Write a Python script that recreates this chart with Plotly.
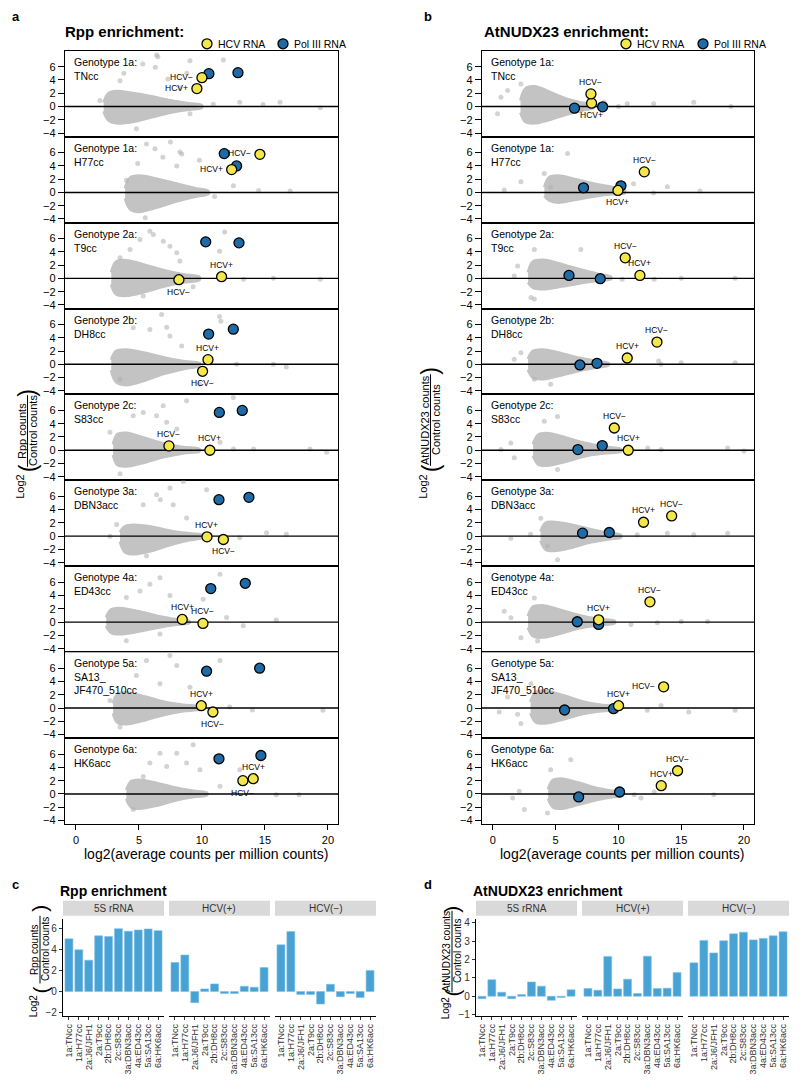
import plotly.graph_objects as go

W, H = 800, 1085

# ---------------- data: scatter panels (a = Rpp, b = AtNUDX23) ----------------
genotypes = ["Genotype 1a:<br>TNcc", "Genotype 1a:<br>H77cc", "Genotype 2a:<br>T9cc",
             "Genotype 2b:<br>DH8cc", "Genotype 2c:<br>S83cc", "Genotype 3a:<br>DBN3acc",
             "Genotype 4a:<br>ED43cc", "Genotype 5a:<br>SA13_<br>JF470_510cc", "Genotype 6a:<br>HK6acc"]

rpp_plus_x = [9.6, 12.36, 11.56, 10.48, 10.63, 10.4, 8.44, 9.95, 14.07]
rpp_plus_y = [2.7, 3.45, 0.25, 0.7, 0.0, -0.1, 0.4, 0.35, 2.3]
rpp_minus_x = [10.0, 14.6, 8.17, 10.05, 7.38, 11.7, 10.08, 10.87, 13.25]
rpp_minus_y = [4.35, 5.74, -0.2, -1.05, 0.65, -0.5, -0.2, -0.6, 2.0]
rpp_pol3_x = [[10.55, 12.86], [11.77, 12.75], [10.3, 12.94], [10.53, 12.49], [11.38, 13.2],
              [11.35, 13.73], [10.7, 13.44], [10.37, 14.58], [11.35, 14.68]]
rpp_pol3_y = [[4.95, 5.1], [5.85, 4.0], [5.5, 5.35], [4.55, 5.3], [5.7, 6.0],
              [5.5, 5.85], [5.05, 5.85], [5.55, 6.0], [5.3, 5.8]]

nud_plus_x = [7.86, 9.96, 11.71, 10.7, 10.78, 12.0, 8.42, 10.01, 13.41]
nud_plus_y = [0.5, 0.3, 0.45, 0.95, 0.0, 2.1, 0.35, 0.35, 1.25]
nud_minus_x = [7.81, 12.06, 10.54, 13.07, 9.67, 14.24, 12.51, 13.6, 14.71]
nud_minus_y = [1.9, 3.1, 3.1, 3.35, 3.35, 3.05, 3.05, 3.2, 3.5]
nud_pol3_x = [[6.5, 8.74], [7.22, 10.2], [6.06, 8.55], [6.93, 8.29], [6.77, 8.71],
              [7.14, 9.27], [6.72, 8.42], [5.71, 9.61], [6.83, 10.09]]
nud_pol3_y = [[-0.25, -0.05], [0.7, 1.0], [0.45, -0.05], [-0.1, 0.15], [0.1, 0.7],
              [0.45, 0.55], [0.05, -0.35], [-0.3, -0.1], [-0.45, 0.3]]

# dense background cloud: envelope (x, upper edge, lower edge)
cloud_a_x = [[2.2, 2.6, 3.2, 4.5, 6.0, 7.5, 9.0, 10.0],
             [3.9, 4.3, 5.0, 6.5, 8.0, 9.5, 10.5],
             [2.8, 3.2, 4.0, 5.5, 7.0, 8.5, 9.8],
             [2.8, 3.2, 4.0, 5.5, 7.0, 8.5, 9.8],
             [2.95, 3.3, 4.0, 5.5, 7.0, 8.5, 9.8],
             [3.5, 3.9, 4.6, 6.0, 7.5, 9.0, 10.0],
             [2.4, 2.8, 3.5, 5.0, 6.5, 8.0, 9.0],
             [2.95, 3.3, 4.0, 5.5, 7.0, 8.5, 9.8],
             [4.0, 4.4, 5.0, 6.5, 8.0, 9.5, 10.4]]
cloud_a_hi = [[0.6, 2.0, 2.3, 2.0, 1.5, 0.9, 0.45, 0.15],
              [0.6, 2.2, 2.5, 2.0, 1.3, 0.6, 0.2],
              [0.9, 2.5, 2.7, 2.0, 1.2, 0.6, 0.2],
              [0.7, 2.0, 2.2, 1.7, 1.0, 0.45, 0.15],
              [0.9, 2.4, 2.6, 1.8, 1.0, 0.45, 0.15],
              [0.6, 1.5, 1.7, 1.4, 0.8, 0.4, 0.15],
              [0.7, 1.9, 2.1, 1.6, 0.9, 0.4, 0.15],
              [0.7, 2.1, 2.3, 1.7, 0.9, 0.45, 0.15],
              [0.6, 1.9, 2.1, 1.6, 0.9, 0.4, 0.15]]
cloud_a_lo = [[-0.7, -2.1, -2.5, -2.3, -1.6, -0.9, -0.45, -0.15],
              [-0.9, -2.5, -2.9, -2.2, -1.3, -0.6, -0.2],
              [-0.9, -2.4, -2.6, -2.0, -1.2, -0.6, -0.2],
              [-0.9, -2.7, -3.1, -2.4, -1.4, -0.7, -0.2],
              [-0.7, -2.2, -2.4, -1.8, -1.0, -0.45, -0.15],
              [-0.8, -2.4, -2.7, -2.2, -1.3, -0.6, -0.2],
              [-0.6, -1.6, -1.8, -1.4, -0.8, -0.35, -0.15],
              [-0.8, -2.2, -2.4, -1.8, -1.0, -0.45, -0.15],
              [-0.7, -2.0, -2.2, -1.7, -0.9, -0.4, -0.15]]

cloud_b_x = [[2.2, 2.6, 3.3, 4.5, 5.8, 7.0, 8.0],
             [4.1, 4.5, 5.2, 6.5, 8.0, 9.5, 10.5],
             [2.8, 3.2, 4.0, 5.5, 7.0, 8.5, 9.4],
             [2.8, 3.2, 4.0, 5.5, 7.0, 8.3, 9.2],
             [3.2, 3.6, 4.3, 5.8, 7.3, 8.8, 10.2],
             [3.8, 4.2, 4.9, 6.3, 7.8, 9.2, 10.2],
             [2.8, 3.2, 3.9, 5.4, 6.9, 8.4, 9.7],
             [3.0, 3.4, 4.1, 5.6, 7.1, 8.6, 10.2],
             [4.4, 4.8, 5.4, 6.8, 8.2, 9.5, 10.4]]
cloud_b_hi = [[0.9, 2.7, 3.0, 2.2, 1.2, 0.6, 0.2],
              [0.8, 2.3, 2.5, 2.0, 1.3, 0.8, 0.3],
              [0.9, 2.5, 2.75, 2.1, 1.3, 0.6, 0.2],
              [0.8, 2.0, 2.2, 1.6, 0.9, 0.45, 0.15],
              [0.9, 2.3, 2.55, 1.9, 1.1, 0.55, 0.15],
              [0.7, 2.0, 2.1, 1.7, 1.0, 0.45, 0.15],
              [0.9, 2.3, 2.5, 1.8, 1.0, 0.45, 0.15],
              [0.9, 2.4, 2.6, 1.9, 1.0, 0.45, 0.15],
              [0.7, 2.1, 2.3, 1.7, 0.9, 0.45, 0.15]]
cloud_b_lo = [[-0.9, -2.3, -2.5, -2.0, -1.2, -0.6, -0.2],
              [-0.5, -1.2, -1.5, -1.1, -0.6, -0.25, -0.1],
              [-0.6, -1.4, -1.6, -1.2, -0.7, -0.3, -0.1],
              [-0.8, -2.0, -2.2, -1.6, -0.9, -0.45, -0.15],
              [-0.8, -2.1, -2.3, -1.7, -0.9, -0.45, -0.15],
              [-0.7, -2.0, -2.2, -1.7, -0.9, -0.45, -0.15],
              [-0.8, -2.1, -2.3, -1.7, -0.9, -0.45, -0.15],
              [-0.8, -2.1, -2.3, -1.7, -0.9, -0.45, -0.15],
              [-0.7, -2.0, -2.2, -1.6, -0.9, -0.45, -0.15]]

# scattered individual genes outside the dense cloud
outl_a_x = [[6.4, 6.5, 5.3, 6.3, 3.8, 3.5, 7.3, 9.05, 11.7, 8.8, 8.25, 13.0, 14.85, 16.2, 19.4, 9.05, 4.8, 10.9, 1.9],
            [6.27, 8.25, 8.4, 6.9, 4.9, 8.0, 9.8, 4.0, 5.6, 7.5, 12.5, 14.5, 17.0, 11.0, 5.5],
            [5.87, 6.14, 6.93, 7.46, 8.0, 8.25, 5.08, 4.29, 3.5, 11.8, 11.4, 13.3, 15.66, 19.4, 5.34, 9.3],
            [6.8, 4.55, 5.87, 7.2, 7.46, 8.39, 11.4, 11.5, 12.75, 15.66, 16.7, 3.5, 9.8],
            [8.78, 6.93, 5.34, 4.55, 6.4, 7.2, 8.0, 12.49, 11.43, 12.5, 14.1, 18.57, 19.9, 3.5, 2.7],
            [8.52, 7.46, 6.4, 5.34, 6.7, 7.72, 8.78, 10.37, 13.0, 15.13, 16.7, 3.23, 5.6, 2.7],
            [6.67, 5.08, 4.0, 5.87, 7.46, 11.43, 10.1, 11.96, 13.28, 15.9, 4.0, 6.67],
            [5.6, 7.46, 4.8, 6.67, 8.0, 9.05, 11.43, 12.2, 14.0, 19.6, 3.5, 2.7],
            [6.67, 8.0, 5.87, 7.2, 8.78, 9.84, 5.34, 13.0, 11.43, 15.9, 17.7, 4.55, 9.3]]
outl_a_y = [[7.75, 7.5, 6.4, 5.9, 5.0, 3.9, 4.15, 6.9, 7.0, 5.0, 2.8, 0.65, 0.3, 0.65, -0.2, -1.1, -3.35, 0.35, 0.9],
            [6.6, 6.1, 5.8, 5.3, 4.35, 4.0, 4.85, 1.85, 7.3, 7.6, 1.0, 0.3, 0.2, -0.6, -3.8],
            [7.1, 6.6, 5.6, 4.85, 3.85, 2.6, 5.85, 4.35, 3.1, 7.0, 4.1, -0.15, 0.0, -0.15, -2.65, -1.25],
            [7.5, 5.5, 5.25, 5.6, 4.25, 2.75, 7.2, 6.5, 0.0, 0.0, -0.4, -2.25, -3.0],
            [7.45, 6.7, 5.7, 5.2, 5.2, 4.2, 3.2, 7.95, 1.2, 0.2, 0.2, 0.2, -0.3, -3.55, 2.7],
            [8.25, 7.25, 6.25, 4.75, 5.5, 4.75, 2.75, 7.0, -0.25, 0.5, 0.3, 1.75, -3.0, 0.0],
            [6.7, 4.7, 3.7, 5.7, 4.0, 7.2, 3.45, 0.7, -0.55, 0.3, -2.8, -1.8],
            [7.15, 7.9, 4.9, 3.65, 6.4, 3.15, 7.15, 0.15, -0.3, -0.35, -2.85, 1.15],
            [6.15, 6.15, 4.65, 4.15, 4.65, 3.65, 2.65, 3.65, 1.15, -0.1, -0.1, -2.35, 7.4]]
outl_b_x = [[0.64, 0.37, 1.17, 2.23, 7.0, 8.87, 10.7, 12.8, 16.0, 18.96, 10.0],
            [5.95, 2.23, 0.9, 4.09, 13.9, 11.2, 12.8, 16.5, 4.6],
            [1.7, 3.3, 3.03, 3.3, 12.85, 15.0, 19.3, 1.97, 7.0, 10.3],
            [1.7, 2.23, 3.3, 13.4, 15.0, 19.3, 13.2, 4.6],
            [0.64, 1.43, 1.7, 4.09, 5.15, 12.33, 13.4, 18.7, 20.0, 5.15],
            [1.43, 3.0, 3.82, 4.35, 11.5, 13.9, 16.0, 18.7, 5.15],
            [0.9, 1.43, 2.23, 3.56, 11.0, 13.1, 15.0, 17.1, 3.3],
            [0.5, 1.17, 1.97, 2.23, 12.3, 13.4, 15.6, 19.3, 3.03],
            [1.57, 2.1, 2.5, 6.2, 4.6, 11.26, 11.8, 12.85, 17.6, 4.35]]
outl_b_y = [[1.4, -1.1, 2.4, 3.4, -0.6, 0.65, 0.4, 0.4, 0.65, 0.0, 0.0],
            [5.85, 1.6, 0.35, 2.85, 0.85, 1.3, -0.1, 0.2, 0.8],
            [0.35, 4.35, -2.9, -3.1, -0.15, 0.0, 0.0, 1.85, 4.35, -0.15],
            [0.75, 1.75, -2.25, 0.0, 0.25, 0.25, 0.5, -3.0],
            [0.1, 1.1, -1.15, 4.35, 5.1, 0.35, 0.1, 0.35, -0.1, -2.9],
            [-0.3, 0.3, 2.7, -1.5, 0.2, 0.45, 0.2, 0.45, -3.55],
            [1.65, 0.65, -2.35, -2.85, -0.35, -0.1, 0.1, 0.1, 3.65],
            [-0.6, 1.65, -0.95, -2.35, -0.35, 0.4, -0.6, -0.35, 3.65],
            [-0.6, 0.4, -2.35, 5.15, 3.65, -0.1, -0.6, 0.3, -0.1, -2.85]]

x_ticks = [0, 5, 10, 15, 20]
y_ticks = [-4, -2, 0, 2, 4, 6]

# ---------------- data: bar panels (c = Rpp, d = AtNUDX23) ----------------
bar_categories = ["1a:TNcc", "1a:H77cc", "2a:J6/JFH1", "2a:T9cc", "2b:DH8cc",
                  "2c:S83cc", "3a:DBN3acc", "4a:ED43cc", "5a:SA13cc", "6a:HK6acc"]
facet_names = ["5S rRNA", "HCV(+)", "HCV(\u2212)"]
rpp_5s = [5.05, 4.0, 3.0, 5.34, 5.27, 6.03, 5.78, 5.9, 6.0, 5.84]
rpp_hcvp = [2.78, 3.5, -1.07, 0.25, 0.73, -0.2, -0.19, 0.5, 0.41, 2.3]
rpp_hcvm = [4.48, 5.75, -0.28, -0.28, -1.2, 0.69, -0.5, -0.19, -0.57, 2.02]
nud_5s = [-0.13, 0.9, 0.22, -0.13, 0.09, 0.78, 0.55, -0.22, -0.07, 0.35]
nud_hcvp = [0.42, 0.33, 2.16, 0.4, 0.93, 0.15, 2.18, 0.42, 0.44, 1.29]
nud_hcvm = [1.82, 3.04, 2.36, 3.02, 3.4, 3.49, 3.07, 3.15, 3.29, 3.51]
rpp_bar_ticks = [-2, 0, 2, 4, 6]
nud_bar_ticks = [-1, 0, 1, 2, 3, 4]

# ---------------- styling ----------------
FONT = "Liberation Sans, Arial, Helvetica, sans-serif"
YELLOW = "#F3E74B"
BLUE = "#1F6BA5"
CLOUD = "#C3C3C3"
OUTL = "rgba(175,175,175,0.55)"
BARC = "#48A2D4"
XR = [-0.87, 20.8]
YR = [-4.55, 8.4]

a_plus_pos = ['left', 'left', 'top', 'top', 'top', 'top', 'top', 'top', 'top']
a_minus_pos = ['left', 'left', 'bottom', 'bottom', 'top', 'bottom', 'top', 'bottom', 'bottom']
b_plus_pos = ['bottom', 'bottom', 'top', 'top', 'top', 'top', 'top', 'top', 'top']
b_minus_pos = ['top', 'top', 'top', 'top', 'top', 'top', 'top', 'left', 'top']


def fx(p):
    return p / W


def fy(p):
    return 1 - p / H


fig = go.Figure()
layout = dict(width=W, height=H, margin=dict(l=0, r=0, t=0, b=0, pad=0),
              plot_bgcolor="white", paper_bgcolor="white", showlegend=False,
              bargap=0.2, font=dict(family=FONT, color="black"))
annotations = []
shapes = []


def ax_names(i):
    return ("xaxis" if i == 1 else f"xaxis{i}", "yaxis" if i == 1 else f"yaxis{i}",
            "x" if i == 1 else f"x{i}", "y" if i == 1 else f"y{i}")


PANEL_TOP = 50.0
PANEL_H = 86.33
cols = [(65, 338), (482, 754)]

sets = [
    dict(px=rpp_plus_x, py=rpp_plus_y, mx=rpp_minus_x, my=rpp_minus_y, bx=rpp_pol3_x, by=rpp_pol3_y,
         cx=cloud_a_x, chi=cloud_a_hi, clo=cloud_a_lo, ox=outl_a_x, oy=outl_a_y,
         ppos=a_plus_pos, mpos=a_minus_pos),
    dict(px=nud_plus_x, py=nud_plus_y, mx=nud_minus_x, my=nud_minus_y, bx=nud_pol3_x, by=nud_pol3_y,
         cx=cloud_b_x, chi=cloud_b_hi, clo=cloud_b_lo, ox=outl_b_x, oy=outl_b_y,
         ppos=b_plus_pos, mpos=b_minus_pos),
]


def label_ann(xr, yr, x, y, text, pos):
    a = dict(xref=xr, yref=yr, x=x, y=y, text=text, showarrow=False,
             font=dict(size=8.5, family=FONT, color="black"))
    if pos == 'left':
        a.update(xanchor='right', yanchor='middle', xshift=-7, yshift=1)
    elif pos == 'top':
        a.update(xanchor='center', yanchor='bottom', yshift=5)
    else:
        a.update(xanchor='center', yanchor='top', yshift=-5)
    return a


for c in range(2):
    d = sets[c]
    x0, x1 = cols[c]
    for r in range(9):
        i = c * 9 + r + 1
        xa, ya, xt, yt = ax_names(i)
        top = PANEL_TOP + PANEL_H * r
        bot = top + PANEL_H
        last = (r == 8)
        layout[xa] = dict(domain=[fx(x0), fx(x1)], range=XR, anchor=yt, showgrid=False, zeroline=False,
                          showline=True, mirror=True, linecolor="black", linewidth=1.4,
                          ticks="outside" if last else "", ticklen=5, tickwidth=1, tickcolor="black",
                          tickvals=x_ticks, showticklabels=last,
                          tickfont=dict(size=11, family=FONT, color="black"))
        layout[ya] = dict(domain=[fy(bot), fy(top)], range=YR, anchor=xt, showgrid=False, zeroline=False,
                          showline=True, mirror=True, linecolor="black", linewidth=1.4,
                          ticks="outside", ticklen=6, tickwidth=1, tickcolor="black",
                          tickvals=y_ticks, tickfont=dict(size=11, family=FONT, color="black"))
        # dense cloud
        cx = d['cx'][r]
        fig.add_trace(go.Scatter(x=cx + cx[::-1], y=d['chi'][r] + d['clo'][r][::-1], xaxis=xt, yaxis=yt,
                                 mode="lines", fill="toself", fillcolor=CLOUD,
                                 line=dict(color=CLOUD, width=3, shape="spline"), hoverinfo="skip"))
        fig.add_trace(go.Scatter(x=d['ox'][r], y=d['oy'][r], xaxis=xt, yaxis=yt, mode="markers",
                                 marker=dict(size=5, color=OUTL), hoverinfo="skip"))
        # zero line
        fig.add_trace(go.Scatter(x=XR, y=[0, 0], xaxis=xt, yaxis=yt, mode="lines",
                                 line=dict(color="black", width=1.4), hoverinfo="skip"))
        # Pol III RNA
        fig.add_trace(go.Scatter(x=d['bx'][r], y=d['by'][r], xaxis=xt, yaxis=yt, mode="markers",
                                 marker=dict(size=10, color=BLUE, line=dict(color="black", width=1.3))))
        # HCV RNA
        fig.add_trace(go.Scatter(x=[d['px'][r], d['mx'][r]], y=[d['py'][r], d['my'][r]], xaxis=xt, yaxis=yt,
                                 mode="markers",
                                 marker=dict(size=10, color=YELLOW, line=dict(color="black", width=1.3))))
        annotations.append(label_ann(xt, yt, d['px'][r], d['py'][r], "HCV+", d['ppos'][r]))
        annotations.append(label_ann(xt, yt, d['mx'][r], d['my'][r], "HCV\u2212", d['mpos'][r]))
        # genotype label
        annotations.append(dict(xref="paper", yref="paper", x=fx(x0 + 7), y=fy(top + 3), text=genotypes[r],
                                showarrow=False, xanchor="left", yanchor="top", align="left",
                                font=dict(size=10.5, family=FONT, color="black")))
    # x-axis title
    annotations.append(dict(xref="paper", yref="paper", x=fx((x0 + x1) / 2 + 4), y=fy(857),
                            text="log2(average counts per million counts)", showarrow=False,
                            xanchor="center", yanchor="middle", font=dict(size=14, family=FONT)))

# titles, panel letters, legends
for txt, x, y, sz in [("a", 10, 16, 13), ("b", 422, 16, 13), ("c", 10, 888, 13), ("d", 422, 888, 13)]:
    annotations.append(dict(xref="paper", yref="paper", x=fx(x), y=fy(y), text=f"<b>{txt}</b>",
                            showarrow=False, xanchor="left", yanchor="middle", font=dict(size=sz, family=FONT)))
for txt, x in [("Rpp enrichment:", 63), ("AtNUDX23 enrichment:", 482)]:
    annotations.append(dict(xref="paper", yref="paper", x=fx(x), y=fy(31), text=f"<b>{txt}</b>",
                            showarrow=False, xanchor="left", yanchor="middle", font=dict(size=15, family=FONT)))
for txt, x in [("Rpp enrichment", 58), ("AtNUDX23 enrichment", 471)]:
    annotations.append(dict(xref="paper", yref="paper", x=fx(x), y=fy(894), text=f"<b>{txt}</b>",
                            showarrow=False, xanchor="left", yanchor="middle", font=dict(size=14, family=FONT)))

for (ycx, pcx) in [(207, 283), (626, 703)]:
    for cx, col, lab in [(ycx, YELLOW, "HCV RNA"), (pcx, BLUE, "Pol III RNA")]:
        shapes.append(dict(type="circle", xref="paper", yref="paper", x0=fx(cx - 5), x1=fx(cx + 5),
                           y0=fy(43 + 5), y1=fy(43 - 5), fillcolor=col, line=dict(color="black", width=1.3)))
        annotations.append(dict(xref="paper", yref="paper", x=fx(cx + 9), y=fy(43), text=lab, showarrow=False,
                                xanchor="left", yanchor="middle", font=dict(size=10.5, family=FONT)))


# rotated y titles with fraction
def ytitle(logx, logy, parx, lpy, rpy, fracy, fracspan, num, den, sz, numdx):
    annotations.append(dict(xref="paper", yref="paper", x=fx(logx), y=fy(logy), text="Log2", textangle=-90,
                            showarrow=False, xanchor="center", yanchor="middle", font=dict(size=sz, family=FONT)))
    for t, yy in [("(", lpy), (")", rpy)]:
        annotations.append(dict(xref="paper", yref="paper", x=fx(parx), y=fy(yy), text=t, textangle=-90,
                                showarrow=False, xanchor="center", yanchor="middle",
                                font=dict(size=sz * 2.1, family=FONT)))
    annotations.append(dict(xref="paper", yref="paper", x=fx(parx - numdx), y=fy(fracy), text=num, textangle=-90,
                            showarrow=False, xanchor="center", yanchor="middle", font=dict(size=sz, family=FONT)))
    annotations.append(dict(xref="paper", yref="paper", x=fx(parx + numdx), y=fy(fracy), text=den, textangle=-90,
                            showarrow=False, xanchor="center", yanchor="middle", font=dict(size=sz, family=FONT)))
    shapes.append(dict(type="line", xref="paper", yref="paper", x0=fx(parx), x1=fx(parx),
                       y0=fy(fracy + fracspan / 2), y1=fy(fracy - fracspan / 2), line=dict(color="black", width=1)))


ytitle(20, 488, 27.5, 470, 394, 432, 72, "Rpp counts", "Control counts", 11, 5.5)
ytitle(423, 488, 430.5, 470, 372, 421, 92, "AtNUDX23 counts", "Control counts", 11, 5.5)
ytitle(33, 1010, 40, 994, 912, 953, 68, "Rpp counts", "Control counts", 10, 5.5)
ytitle(445, 1012, 452, 996, 912, 955, 82, "AtNUDX23 counts", "Control counts", 10, 5.5)

# ---------------- bar panels ----------------
bar_sets = [
    dict(vals=[rpp_5s, rpp_hcvp, rpp_hcvm], yr=[-2.38, 6.98], ticks=rpp_bar_ticks,
         facets=[(63, 164), (169, 270), (275, 376)]),
    dict(vals=[nud_5s, nud_hcvp, nud_hcvm], yr=[-1.09, 4.22], ticks=nud_bar_ticks,
         facets=[(476, 577), (582, 683), (688, 789)]),
]
for b in range(2):
    bs = bar_sets[b]
    for f in range(3):
        i = 19 + b * 3 + f
        xa, ya, xt, yt = ax_names(i)
        l, rr = bs['facets'][f]
        layout[xa] = dict(domain=[fx(l), fx(rr)], type="category", categoryorder="array",
                          categoryarray=bar_categories, range=[-0.6, 9.6], anchor=yt,
                          tickmode="array", tickvals=bar_categories, ticktext=bar_categories,
                          showline=True, linecolor="black", linewidth=1.2, showgrid=False, zeroline=False,
                          ticks="outside", ticklen=3, tickwidth=1, tickcolor="#333333", tickangle=-90,
                          tickfont=dict(size=9, family=FONT, color="#333333"))
        layout[ya] = dict(domain=[fy(1020), fy(922)], range=bs['yr'], anchor=xt, showgrid=False, zeroline=False,
                          showline=(f == 0), linecolor="black", linewidth=1.2,
                          ticks="outside" if f == 0 else "", ticklen=3, tickwidth=1, tickcolor="#333333",
                          tickvals=bs['ticks'], showticklabels=(f == 0),
                          tickfont=dict(size=10, family=FONT, color="#333333"))
        fig.add_trace(go.Bar(x=bar_categories, y=bs['vals'][f], xaxis=xt, yaxis=yt,
                             marker=dict(color=BARC, line=dict(color="#7FC0E6", width=0.6))))
        shapes.append(dict(type="rect", xref="paper", yref="paper", x0=fx(l), x1=fx(rr), y0=fy(919), y1=fy(904),
                           fillcolor="#D9D9D9", line=dict(width=0), layer="below"))
        annotations.append(dict(xref="paper", yref="paper", x=fx((l + rr) / 2), y=fy(911.5), text=facet_names[f],
                                showarrow=False, xanchor="center", yanchor="middle",
                                font=dict(size=10, family=FONT, color="#333333")))

layout['annotations'] = annotations
layout['shapes'] = shapes
fig.update_layout(**layout)
fig.write_html("out.html", config={"displayModeBar": False},
               post_script="document.body.style.margin='0';")
